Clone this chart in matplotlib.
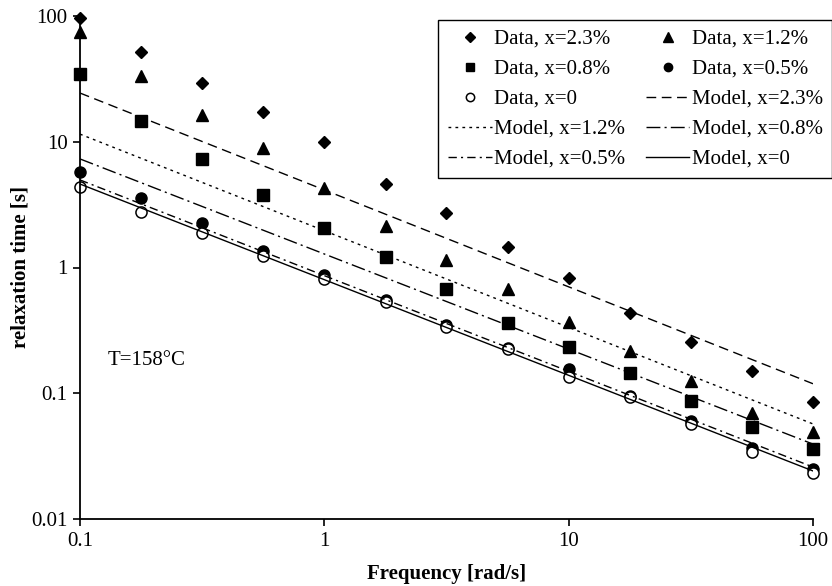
import matplotlib
matplotlib.use('Agg')
import matplotlib.pyplot as plt

plt.rcParams['font.family'] = ['Liberation Serif', 'DejaVu Serif']
plt.rcParams['font.size'] = 15

# Frequencies (rad/s)
freq = [0.1, 0.178, 0.316, 0.562, 1, 1.78, 3.16, 5.62, 10, 17.8, 31.6, 56.2, 100]

# Measured relaxation times (s)
data_23 = [96, 51.8, 29.3, 17.3, 9.95, 4.61, 2.7, 1.46, 0.825, 0.434, 0.256, 0.150, 0.0851]
data_12 = [74.6, 33.3, 16.3, 8.9, 4.28, 2.14, 1.15, 0.674, 0.369, 0.217, 0.125, 0.0697, 0.0492]
data_08 = [34.6, 14.6, 7.3, 3.77, 2.06, 1.21, 0.674, 0.362, 0.233, 0.145, 0.0867, 0.054, 0.036]
data_05 = [5.74, 3.57, 2.26, 1.35, 0.871, 0.55, 0.349, 0.229, 0.156, 0.095, 0.060, 0.0367, 0.025]
data_00 = [4.37, 2.76, 1.88, 1.23, 0.81, 0.53, 0.336, 0.225, 0.135, 0.093, 0.057, 0.034, 0.0232]

# Model lines (straight on log-log), values at the ends of the range
model_freq = [0.1, 100]
model_23 = [24.4, 0.119]
model_12 = [11.5, 0.057]
model_08 = [7.3, 0.0394]
model_05 = [4.97, 0.0259]
model_00 = [4.61, 0.0241]

xticks = [0.1, 1, 10, 100]
xtick_labels = ['0.1', '1', '10', '100']
yticks = [0.01, 0.1, 1, 10, 100]
ytick_labels = ['0.01', '0.1', '1', '10', '100']

fig = plt.figure(figsize=(8.32, 5.86), dpi=100)
ax = fig.add_axes([80/832, 1 - 519/586, (813-80)/832, (519-16)/586])

h1, = ax.plot(freq, data_23, 'D', color='black', markersize=6.5, linestyle='none', clip_on=False, label='Data, x=2.3%')
h2, = ax.plot(freq, data_12, '^', color='black', markersize=9, linestyle='none', clip_on=False, label='Data, x=1.2%')
h3, = ax.plot(freq, data_08, 's', color='black', markersize=8.5, linestyle='none', clip_on=False, label='Data, x=0.8%')
h4, = ax.plot(freq, data_05, 'o', color='black', markersize=8, linestyle='none', clip_on=False, label='Data, x=0.5%')
h5, = ax.plot(freq, data_00, 'o', markerfacecolor='white', markeredgecolor='black', markersize=8,
              markeredgewidth=1.1, linestyle='none', clip_on=False, label='Data, x=0')

lw = 1.0
h6, = ax.plot(model_freq, model_23, color='black', lw=lw, dashes=(7, 4), label='Model, x=2.3%')
h7, = ax.plot(model_freq, model_12, color='black', lw=lw, dashes=(2, 3), label='Model, x=1.2%')
h8, = ax.plot(model_freq, model_08, color='black', lw=lw, dashes=(10, 3, 1.5, 3), label='Model, x=0.8%')
h9, = ax.plot(model_freq, model_05, color='black', lw=lw, dashes=(6, 3, 1.5, 3), label='Model, x=0.5%')
h10, = ax.plot(model_freq, model_00, color='black', lw=lw, linestyle='-', label='Model, x=0')

ax.set_xscale('log')
ax.set_yscale('log')
ax.set_xlim(0.1, 100)
ax.set_ylim(0.01, 100)
ax.set_xticks(xticks)
ax.set_xticklabels(xtick_labels)
ax.set_yticks(yticks)
ax.set_yticklabels(ytick_labels)
ax.minorticks_off()
ax.tick_params(direction='out', length=5, width=1.2, pad=4)

for side in ['top', 'right']:
    ax.spines[side].set_visible(False)
for side in ['left', 'bottom']:
    ax.spines[side].set_linewidth(1.3)

ax.set_xlabel('Frequency [rad/s]', fontweight='bold', labelpad=10)
ax.set_ylabel('relaxation time [s]', fontweight='bold', labelpad=0.5)

ax.text(0.038, 0.316, 'T=158°C', transform=ax.transAxes, va='center', ha='left')

# legend is filled column by column, so order entries to read row-wise like the original
handles = [h1, h3, h5, h7, h9, h2, h4, h6, h8, h10]
leg = fig.legend(handles=handles, ncol=2, loc='upper right', bbox_to_anchor=(1.0, 1 - 20/586),
                 borderaxespad=0.0, frameon=True, fancybox=False, edgecolor='black', framealpha=1,
                 handlelength=2.1, handletextpad=0.1, columnspacing=1.0,
                 labelspacing=0.5, borderpad=0.45, markerscale=0.75)
leg.get_frame().set_linewidth(1.0)

fig.savefig('out.png', dpi=100)
